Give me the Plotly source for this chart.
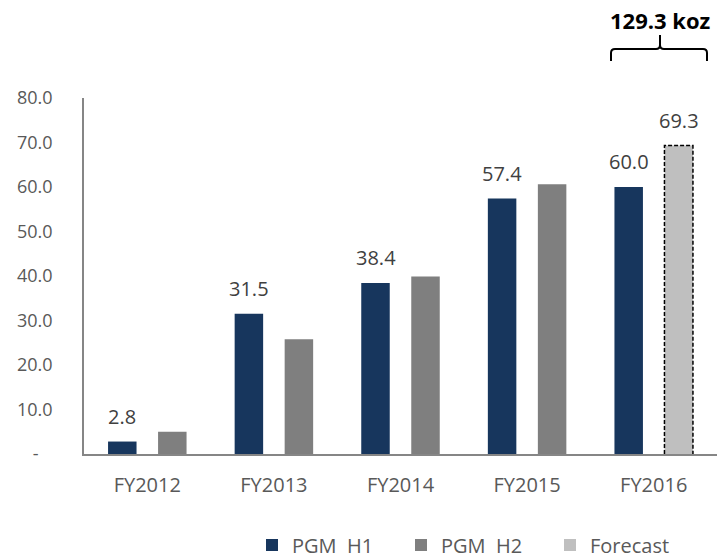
import plotly.graph_objects as go

# ---- data ----
categories = ["FY2012", "FY2013", "FY2014", "FY2015", "FY2016"]
pgm_h1 = [2.8, 31.5, 38.4, 57.4, 60.0]
pgm_h2_actual = [5.0, 25.8, 39.9, 60.6]          # FY2012-FY2015
pgm_h2_forecast = [69.3]                          # FY2016
forecast_categories = ["FY2016"]
y_tick_values = [0, 10, 20, 30, 40, 50, 60, 70, 80]
y_tick_labels = ["-\u00a0\u00a0\u00a0", "10.0", "20.0", "30.0", "40.0", "50.0", "60.0", "70.0", "80.0"]
series_names = ["PGM\u00a0\u00a0H1", "PGM\u00a0\u00a0H2", "Forecast"]

# ---- styles ----
NAVY = "#17365D"
GRAY = "#7F7F7F"
LIGHT = "#BFBFBF"
AXIS = "#868686"
TXT = "#595959"
LBL = "#404040"
FONT = "Open Sans"

FW, FH = 718, 560

idx = {c: i for i, c in enumerate(categories)}
x_all = [idx[c] for c in categories]
x_h2 = x_all[:len(pgm_h2_actual)]
x_fc = [idx[c] for c in forecast_categories]

OFF1, OFF2, W = -0.31, 0.085, 0.225

fig = go.Figure()
fig.add_trace(go.Bar(x=x_all, y=pgm_h1, name=series_names[0], marker=dict(color=NAVY, line=dict(width=0)),
                     offset=OFF1, width=W))
fig.add_trace(go.Bar(x=x_h2, y=pgm_h2_actual, name=series_names[1], marker=dict(color=GRAY, line=dict(width=0)),
                     offset=OFF2, width=W))
fig.add_trace(go.Bar(x=x_fc, y=pgm_h2_forecast, name=series_names[2], marker=dict(color=LIGHT, line=dict(width=0)),
                     offset=OFF2, width=W))

# dashed outline for forecast bar, derived from data
for xi, v in zip(x_fc, pgm_h2_forecast):
    x0, x1 = xi + OFF2, xi + OFF2 + W
    fig.add_trace(go.Scatter(x=[x0, x0, x1, x1], y=[0, v, v, 0], mode="lines",
                             line=dict(color="#000000", width=1.5, dash="4px,2px"),
                             showlegend=False, hoverinfo="skip"))

# value labels
for xi, v in zip(x_all, pgm_h1):
    fig.add_annotation(x=xi + OFF1 + W / 2, y=v, text=f"{v:.1f}", showarrow=False,
                       yanchor="bottom", yshift=10, font=dict(family=FONT, size=20, color=LBL))
for xi, v in zip(x_fc, pgm_h2_forecast):
    fig.add_annotation(x=xi + OFF2 + W / 2, y=v, text=f"{v:.1f}", showarrow=False,
                       yanchor="bottom", yshift=10, font=dict(family=FONT, size=20, color=LBL))

# geometry in window pixels
L, R, T, B = 84, 717, 98, 454


def px(xp):
    return (xp - L) / (R - L)


def py(yp):
    return (B - yp) / (B - T)


# total annotation with brace
total = pgm_h1[-1] + pgm_h2_forecast[-1]
xl, xc, xr = 611, 660, 707
yh, ye, yt = 49, 61, 35
r = 4
path = (f"M{px(xl)},{py(ye)} L{px(xl)},{py(yh + r)} Q{px(xl)},{py(yh)} {px(xl + r)},{py(yh)} "
        f"L{px(xc - r)},{py(yh)} Q{px(xc)},{py(yh)} {px(xc)},{py(yh - r)} L{px(xc)},{py(yt)} "
        f"M{px(xc)},{py(yh - r)} Q{px(xc)},{py(yh)} {px(xc + r)},{py(yh)} "
        f"L{px(xr - r)},{py(yh)} Q{px(xr)},{py(yh)} {px(xr)},{py(yh + r)} L{px(xr)},{py(ye)}")
fig.add_shape(type="path", path=path, xref="paper", yref="paper",
              line=dict(color="#000000", width=2))
fig.add_annotation(x=px(xc), y=py(20), xref="paper", yref="paper", text=f"<b>{total:.1f} koz</b>",
                   showarrow=False, font=dict(family=FONT, size=22, color="#000000"),
                   xanchor="center", yanchor="middle")

fig.update_layout(
    width=FW, height=FH,
    margin=dict(l=L, r=FW - R, t=T, b=FH - B, autoexpand=False),
    paper_bgcolor="white", plot_bgcolor="white",
    barmode="overlay",
    font=dict(family=FONT, color=TXT),
    showlegend=True,
    legend=dict(orientation="h", x=px(252), xanchor="left", y=py(545), yanchor="middle",
                font=dict(family=FONT, size=20, color=TXT), entrywidth=104, traceorder="normal",
                bgcolor="rgba(0,0,0,0)"),
)
fig.update_xaxes(range=[-0.5, 4.5], tickmode="array", tickvals=x_all, ticktext=categories,
                 showline=True, linecolor=AXIS, linewidth=1.5, showgrid=False, zeroline=False,
                 ticks="", ticklabelstandoff=12, tickfont=dict(family=FONT, size=20, color=TXT),
                 fixedrange=True)
fig.update_yaxes(range=[0, 80], tickmode="array", tickvals=y_tick_values, ticktext=y_tick_labels,
                 showline=True, linecolor=AXIS, linewidth=1.5, showgrid=False, zeroline=False,
                 ticks="", ticklabelstandoff=26, tickfont=dict(family=FONT, size=18, color=TXT),
                 fixedrange=True)

fig.write_html("out.html", config={"displayModeBar": False},
               post_script="document.body.style.margin='0';document.body.style.overflow='hidden';")
